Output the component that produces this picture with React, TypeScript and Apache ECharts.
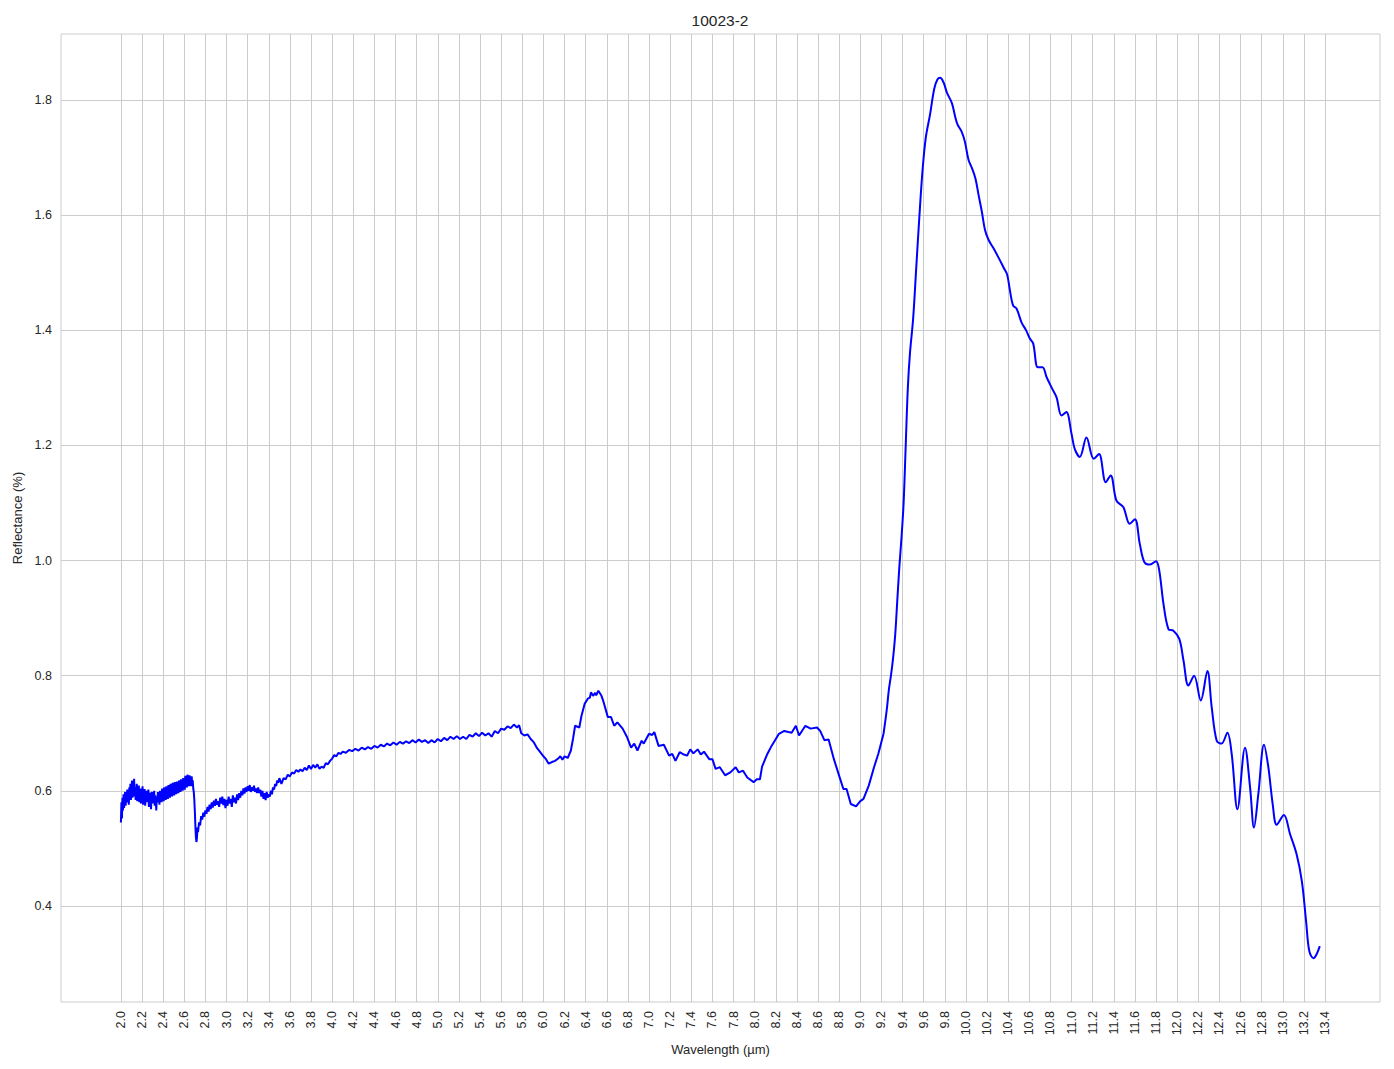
import React, { useEffect, useRef } from "react";
import * as echarts from "echarts";

const chartTitle = "10023-2";
const xAxisName = "Wavelength (µm)";
const yAxisName = "Reflectance (%)";

const xTickLabels = [
  "2.0", "2.2", "2.4", "2.6", "2.8", "3.0", "3.2", "3.4", "3.6", "3.8",
  "4.0", "4.2", "4.4", "4.6", "4.8", "5.0", "5.2", "5.4", "5.6", "5.8",
  "6.0", "6.2", "6.4", "6.6", "6.8", "7.0", "7.2", "7.4", "7.6", "7.8",
  "8.0", "8.2", "8.4", "8.6", "8.8", "9.0", "9.2", "9.4", "9.6", "9.8",
  "10.0", "10.2", "10.4", "10.6", "10.8", "11.0", "11.2", "11.4", "11.6", "11.8",
  "12.0", "12.2", "12.4", "12.6", "12.8", "13.0", "13.2", "13.4",
];
const yTickLabels = ["0.4", "0.6", "0.8", "1.0", "1.2", "1.4", "1.6", "1.8"];

// Very noisy start of the spectrum, [wavelength, reflectance] (2.0 - 2.7 µm)
const noisyStart = [
  [2.000, 0.545], [2.005, 0.580], [2.010, 0.552], [2.015, 0.588], [2.020, 0.566],
  [2.025, 0.594], [2.030, 0.570], [2.035, 0.586], [2.040, 0.598], [2.045, 0.574],
  [2.050, 0.592], [2.055, 0.580], [2.060, 0.602], [2.065, 0.584], [2.070, 0.596],
  [2.075, 0.576], [2.080, 0.606], [2.085, 0.590], [2.090, 0.612], [2.095, 0.584],
  [2.100, 0.598], [2.105, 0.618], [2.110, 0.588], [2.115, 0.604], [2.120, 0.592],
  [2.125, 0.621], [2.130, 0.590], [2.135, 0.606], [2.140, 0.584], [2.145, 0.600],
  [2.150, 0.612], [2.155, 0.582], [2.160, 0.598], [2.165, 0.586], [2.170, 0.609],
  [2.175, 0.580], [2.180, 0.596], [2.185, 0.604], [2.190, 0.578], [2.195, 0.594],
  [2.200, 0.586], [2.205, 0.608], [2.210, 0.576], [2.215, 0.598], [2.220, 0.588],
  [2.225, 0.603], [2.230, 0.574], [2.235, 0.592], [2.240, 0.600], [2.245, 0.580],
  [2.250, 0.596], [2.255, 0.584], [2.260, 0.602], [2.265, 0.572], [2.270, 0.590],
  [2.275, 0.580], [2.280, 0.597], [2.285, 0.568], [2.290, 0.588], [2.295, 0.598],
  [2.300, 0.578], [2.305, 0.594], [2.310, 0.582], [2.315, 0.600], [2.320, 0.574],
  [2.325, 0.592], [2.330, 0.584], [2.335, 0.566], [2.340, 0.590], [2.345, 0.580],
  [2.350, 0.598], [2.355, 0.584], [2.360, 0.594], [2.365, 0.576], [2.370, 0.600],
  [2.375, 0.586], [2.380, 0.596], [2.385, 0.580], [2.390, 0.604], [2.395, 0.588],
  [2.400, 0.598], [2.405, 0.582], [2.410, 0.606], [2.415, 0.590], [2.420, 0.600],
  [2.425, 0.584], [2.430, 0.608], [2.435, 0.592], [2.440, 0.602], [2.445, 0.586],
  [2.450, 0.610], [2.455, 0.594], [2.460, 0.604], [2.465, 0.588], [2.470, 0.612],
  [2.475, 0.596], [2.480, 0.606], [2.485, 0.590], [2.490, 0.614], [2.495, 0.598],
  [2.500, 0.608], [2.505, 0.592], [2.510, 0.615], [2.515, 0.600], [2.520, 0.610],
  [2.525, 0.594], [2.530, 0.616], [2.535, 0.602], [2.540, 0.612], [2.545, 0.596],
  [2.550, 0.618], [2.555, 0.604], [2.560, 0.612], [2.565, 0.598], [2.570, 0.620],
  [2.575, 0.606], [2.580, 0.614], [2.585, 0.600], [2.590, 0.622], [2.595, 0.608],
  [2.600, 0.616], [2.605, 0.602], [2.610, 0.626], [2.615, 0.610], [2.620, 0.620],
  [2.625, 0.606], [2.630, 0.628], [2.635, 0.612], [2.640, 0.624], [2.645, 0.608],
  [2.650, 0.627], [2.655, 0.612], [2.660, 0.622], [2.665, 0.608], [2.670, 0.625],
  [2.675, 0.612], [2.680, 0.618], [2.685, 0.604], [2.690, 0.598], [2.695, 0.585],
  [2.700, 0.565],
];

// Dip and recovery, [wavelength, reflectance] (2.7 - 3.5 µm)
const dipRecovery = [
  [2.705, 0.540], [2.710, 0.520], [2.715, 0.511], [2.720, 0.518], [2.725, 0.536],
  [2.730, 0.528], [2.740, 0.545], [2.750, 0.540], [2.760, 0.556], [2.770, 0.550],
  [2.780, 0.562], [2.790, 0.555], [2.800, 0.566], [2.810, 0.560], [2.820, 0.572],
  [2.830, 0.564], [2.840, 0.576], [2.850, 0.568], [2.860, 0.580], [2.870, 0.571],
  [2.880, 0.583], [2.890, 0.574], [2.900, 0.586], [2.910, 0.576], [2.920, 0.582],
  [2.930, 0.572], [2.940, 0.588], [2.950, 0.578], [2.960, 0.590], [2.970, 0.575],
  [2.980, 0.586], [2.990, 0.570], [3.000, 0.584], [3.010, 0.574], [3.020, 0.590],
  [3.030, 0.578], [3.040, 0.586], [3.050, 0.572], [3.060, 0.592], [3.070, 0.580],
  [3.080, 0.588], [3.090, 0.578], [3.100, 0.594], [3.110, 0.584], [3.120, 0.596],
  [3.130, 0.588], [3.140, 0.600], [3.150, 0.592], [3.160, 0.604], [3.170, 0.595],
  [3.180, 0.606], [3.190, 0.598], [3.200, 0.608], [3.210, 0.600], [3.220, 0.610],
  [3.230, 0.598], [3.240, 0.606], [3.250, 0.600], [3.260, 0.609], [3.270, 0.598],
  [3.280, 0.604], [3.290, 0.596], [3.300, 0.606], [3.310, 0.596], [3.320, 0.602],
  [3.330, 0.590], [3.340, 0.600], [3.350, 0.586], [3.360, 0.596], [3.370, 0.584],
  [3.380, 0.598], [3.390, 0.588], [3.400, 0.594], [3.410, 0.590], [3.420, 0.600],
  [3.430, 0.594], [3.440, 0.606], [3.450, 0.602], [3.460, 0.612], [3.470, 0.608],
  [3.480, 0.618], [3.490, 0.614], [3.500, 0.622],
];

// Mid part of the spectrum (3.52 - 9.22 µm)
const wavelengthA = [
  3.52, 3.54, 3.56, 3.58, 3.60, 3.62, 3.64, 3.66, 3.68, 3.70,
  3.72, 3.74, 3.76, 3.78, 3.80, 3.82, 3.84, 3.86, 3.88, 3.90,
  3.92, 3.94, 3.96, 3.98, 4.00, 4.02, 4.04, 4.06, 4.08, 4.10,
  4.13, 4.16, 4.19, 4.22, 4.25, 4.28, 4.31, 4.34, 4.37, 4.40,
  4.43, 4.46, 4.49, 4.52, 4.55, 4.58, 4.61, 4.64, 4.67, 4.70,
  4.73, 4.76, 4.79, 4.82, 4.85, 4.88, 4.91, 4.94, 4.97, 5.00,
  5.03, 5.06, 5.09, 5.12, 5.15, 5.18, 5.21, 5.24, 5.27, 5.30,
  5.33, 5.36, 5.39, 5.42, 5.45, 5.48, 5.51, 5.54, 5.57, 5.60,
  5.63, 5.66, 5.69, 5.72, 5.75, 5.77, 5.79, 5.82, 5.85, 5.88,
  5.91, 5.94, 5.97, 6.00, 6.02, 6.05, 6.08, 6.11, 6.14, 6.16,
  6.18, 6.20, 6.23, 6.26, 6.28, 6.30, 6.34, 6.36, 6.39, 6.42,
  6.44, 6.45, 6.47, 6.49, 6.50, 6.52, 6.55, 6.57, 6.61, 6.64,
  6.67, 6.70, 6.75, 6.79, 6.83, 6.86, 6.89, 6.93, 6.95, 7.00,
  7.03, 7.05, 7.09, 7.14, 7.19, 7.22, 7.25, 7.29, 7.33, 7.36,
  7.39, 7.42, 7.46, 7.49, 7.52, 7.57, 7.60, 7.63, 7.67, 7.72,
  7.77, 7.82, 7.85, 7.89, 7.93, 7.99, 8.02, 8.05, 8.07, 8.12,
  8.16, 8.23, 8.28, 8.32, 8.35, 8.39, 8.42, 8.48, 8.53, 8.59,
  8.62, 8.66, 8.70, 8.75, 8.80, 8.84, 8.87, 8.91, 8.96, 9.00,
  9.03, 9.08, 9.13, 9.17, 9.22,
];
const reflectanceA = [
  0.612, 0.622, 0.620, 0.628, 0.625, 0.632, 0.630, 0.636, 0.633, 0.637,
  0.634, 0.640, 0.636, 0.644, 0.638, 0.645, 0.640, 0.646, 0.638, 0.642,
  0.640, 0.648, 0.646, 0.652, 0.656, 0.662, 0.660, 0.666, 0.664, 0.668,
  0.666, 0.671, 0.669, 0.673, 0.670, 0.675, 0.672, 0.676, 0.673, 0.678,
  0.675, 0.680, 0.677, 0.682, 0.679, 0.684, 0.680, 0.685, 0.682, 0.686,
  0.683, 0.688, 0.684, 0.689, 0.685, 0.688, 0.683, 0.688, 0.684, 0.690,
  0.686, 0.692, 0.688, 0.694, 0.690, 0.695, 0.690, 0.694, 0.690, 0.697,
  0.694, 0.700, 0.695, 0.701, 0.696, 0.700, 0.694, 0.704, 0.700, 0.708,
  0.706, 0.712, 0.709, 0.715, 0.710, 0.714, 0.700, 0.696, 0.698, 0.690,
  0.684, 0.674, 0.667, 0.660, 0.656, 0.647, 0.650, 0.652, 0.656, 0.660,
  0.654, 0.660, 0.657, 0.670, 0.690, 0.713, 0.710, 0.730, 0.751, 0.760,
  0.762, 0.771, 0.765, 0.770, 0.766, 0.774, 0.765, 0.754, 0.728, 0.728,
  0.713, 0.719, 0.708, 0.694, 0.675, 0.682, 0.670, 0.687, 0.682, 0.699,
  0.697, 0.702, 0.678, 0.680, 0.661, 0.664, 0.652, 0.667, 0.663, 0.661,
  0.672, 0.665, 0.672, 0.663, 0.668, 0.655, 0.655, 0.638, 0.641, 0.627,
  0.632, 0.641, 0.632, 0.635, 0.623, 0.615, 0.620, 0.620, 0.642, 0.664,
  0.678, 0.699, 0.704, 0.702, 0.701, 0.713, 0.696, 0.713, 0.708, 0.710,
  0.704, 0.688, 0.689, 0.655, 0.626, 0.603, 0.603, 0.577, 0.573, 0.582,
  0.586, 0.609, 0.641, 0.664, 0.699,
];

// Smooth part of the spectrum (9.22 - 13.35 µm)
const wavelengthB = [
  9.22, 9.25, 9.27, 9.29, 9.31, 9.33, 9.35, 9.37, 9.39, 9.41,
  9.43, 9.45, 9.47, 9.50, 9.53, 9.56, 9.59, 9.62, 9.66, 9.70,
  9.73, 9.756, 9.79, 9.82, 9.867, 9.90, 9.92, 9.96, 9.99, 10.025,
  10.057, 10.09, 10.12, 10.15, 10.18, 10.215, 10.26, 10.31, 10.36, 10.39,
  10.416, 10.447, 10.479, 10.526, 10.57, 10.605, 10.637, 10.68, 10.725, 10.763,
  10.81, 10.857, 10.905, 10.95, 11.0, 11.03, 11.078, 11.141, 11.21, 11.26,
  11.324, 11.37, 11.425, 11.49, 11.55, 11.60, 11.646, 11.69, 11.743, 11.80,
  11.83, 11.87, 11.917, 11.964, 12.02, 12.06, 12.106, 12.16, 12.223, 12.286,
  12.327, 12.374, 12.42, 12.475, 12.516, 12.57, 12.642, 12.69, 12.727, 12.768,
  12.822, 12.863, 12.904, 12.942, 13.01, 13.068, 13.13, 13.18, 13.22, 13.25,
  13.29, 13.32, 13.35,
];
const reflectanceB = [
  0.699, 0.740, 0.775, 0.800, 0.830, 0.870, 0.930, 0.990, 1.040, 1.100,
  1.200, 1.300, 1.360, 1.420, 1.510, 1.600, 1.680, 1.735, 1.775, 1.820,
  1.836, 1.839, 1.830, 1.813, 1.795, 1.770, 1.758, 1.745, 1.728, 1.696,
  1.682, 1.664, 1.635, 1.607, 1.575, 1.557, 1.543, 1.526, 1.508, 1.497,
  1.470, 1.443, 1.438, 1.414, 1.400, 1.386, 1.377, 1.336, 1.336, 1.319,
  1.301, 1.284, 1.252, 1.258, 1.220, 1.194, 1.180, 1.214, 1.177, 1.185,
  1.136, 1.148, 1.104, 1.093, 1.064, 1.072, 1.029, 0.997, 0.993, 0.999,
  0.983, 0.925, 0.881, 0.878, 0.864, 0.826, 0.783, 0.800, 0.757, 0.808,
  0.745, 0.687, 0.682, 0.701, 0.664, 0.568, 0.675, 0.606, 0.536, 0.594,
  0.680, 0.641, 0.577, 0.541, 0.558, 0.525, 0.490, 0.443, 0.374, 0.322,
  0.309, 0.316, 0.330,
];

const FONT = "'Liberation Sans', Arial, sans-serif";
const TEXT = "#262626";
const GRID = "#cccccc";

export default function App() {
  const ref = useRef<HTMLDivElement>(null);

  useEffect(() => {
    if (!ref.current) return;
    const chart = echarts.init(ref.current, null, { renderer: "svg" });
    const seriesA = [
      ...noisyStart,
      ...dipRecovery,
      ...wavelengthA.map((w, i) => [w, reflectanceA[i]]),
    ];
    const seriesB = wavelengthB.map((w, i) => [w, reflectanceB[i]]);
    chart.setOption({
      animation: false,
      backgroundColor: "#ffffff",
      title: {
        text: chartTitle,
        left: 715,
        top: 7,
        textAlign: "center",
        textStyle: { fontFamily: FONT, fontSize: 15.5, fontWeight: "normal", color: TEXT },
      },
      grid: {
        left: 61,
        top: 34,
        right: 14,
        bottom: 67,
        show: true,
        borderColor: GRID,
        borderWidth: 1,
        backgroundColor: "transparent",
      },
      xAxis: {
        type: "value",
        min: 1.433,
        max: 13.92,
        name: xAxisName,
        nameLocation: "middle",
        nameGap: 40,
        nameTextStyle: { fontFamily: FONT, fontSize: 13, color: TEXT },
        axisLine: { show: false },
        axisTick: { show: false, customValues: xTickLabels.map(Number) },
        axisLabel: {
          customValues: xTickLabels.map(Number),
          formatter: (v: number) => v.toFixed(1),
          rotate: 90,
          margin: 9,
          fontFamily: FONT,
          fontSize: 12.5,
          color: TEXT,
        },
        splitLine: { show: true, lineStyle: { color: GRID, width: 1 } },
      },
      yAxis: {
        type: "value",
        min: 0.233,
        max: 1.915,
        name: yAxisName,
        nameLocation: "middle",
        nameGap: 37,
        nameTextStyle: { fontFamily: FONT, fontSize: 13, color: TEXT },
        axisLine: { show: false },
        axisTick: { show: false, customValues: yTickLabels.map(Number) },
        axisLabel: {
          customValues: yTickLabels.map(Number),
          formatter: (v: number) => v.toFixed(1),
          margin: 9,
          fontFamily: FONT,
          fontSize: 12.5,
          color: TEXT,
        },
        splitLine: { show: true, lineStyle: { color: GRID, width: 1 } },
      },
      series: [
        {
          type: "line",
          data: seriesA,
          showSymbol: false,
          symbol: "none",
          lineStyle: { color: "#0000ff", width: 2 },
          z: 3,
        },
        {
          type: "line",
          data: seriesB,
          showSymbol: false,
          symbol: "none",
          smooth: 0.35,
          lineStyle: { color: "#0000ff", width: 2 },
          z: 3,
        },
      ],
    });
    return () => chart.dispose();
  }, []);

  return (
    <div
      ref={ref}
      style={{ position: "absolute", left: 0, top: 0, width: 1394, height: 1069 }}
    />
  );
}
